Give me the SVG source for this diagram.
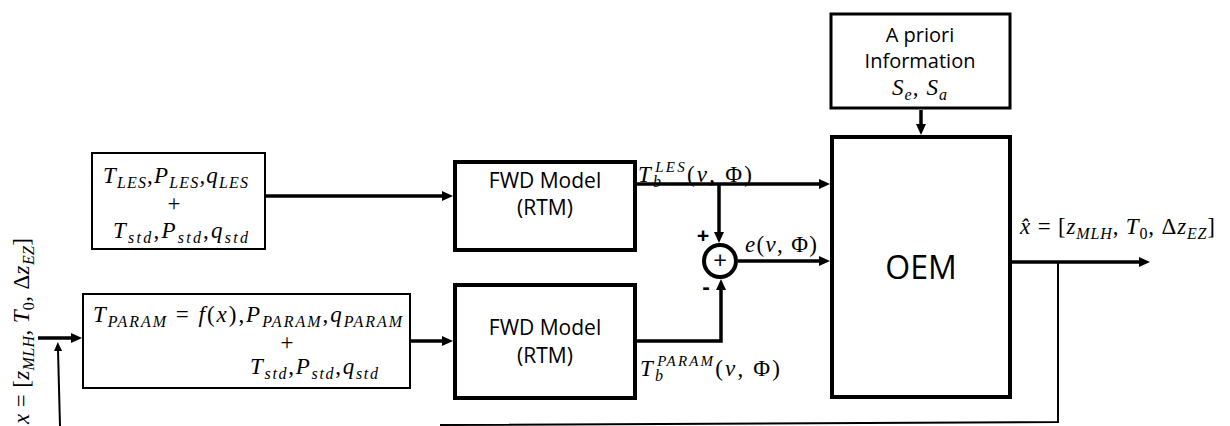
<svg xmlns="http://www.w3.org/2000/svg" width="1230" height="426" viewBox="0 0 1230 426">
<style>
.bg{fill:#fff}
.box{fill:#fff;stroke:#000}
.thin{stroke-width:2}
.thick{stroke-width:4}
.med{stroke-width:3}
.sans{font-family:"Open Sans","Liberation Sans",sans-serif;fill:#000}
.m{font-family:"Liberation Serif","DejaVu Serif",serif;font-size:23px;fill:#000}
.i{font-style:italic}
.sb{font-size:16px;baseline-shift:-5px}
.sp{font-size:15px;baseline-shift:10px}
.c{fill:none;stroke:#000;stroke-width:3.5}
.cf{fill:none;stroke:#000;stroke-width:2}
</style>
<defs>
<marker id="ah" markerUnits="userSpaceOnUse" markerWidth="11" markerHeight="10" refX="1" refY="5" orient="auto" viewBox="0 0 11 10">
<path d="M0,0 L11,5 L0,10 z" fill="#000"/>
</marker>
<marker id="ahs" markerUnits="userSpaceOnUse" markerWidth="9" markerHeight="8" refX="1" refY="4" orient="auto" viewBox="0 0 9 8">
<path d="M0,0 L9,4 L0,8 z" fill="#000"/>
</marker>
</defs>
<rect class="bg" x="0" y="0" width="1230" height="426"/>

<g id="connectors">
<line class="c" x1="266" y1="196" x2="443" y2="196" marker-end="url(#ah)"/>
<line class="c" x1="637" y1="184" x2="820" y2="184" marker-end="url(#ah)"/>
<line class="c" x1="719" y1="184" x2="719" y2="233" marker-end="url(#ah)"/>
<line class="c" x1="738" y1="261" x2="820" y2="261" marker-end="url(#ah)"/>
<polyline class="c" points="637,341 721,341 721,289" marker-end="url(#ah)"/>
<line class="c" x1="411" y1="341" x2="443" y2="341" marker-end="url(#ah)"/>
<line class="c" x1="921" y1="110" x2="921" y2="125" marker-end="url(#ah)"/>
<line class="c" x1="1012" y1="262" x2="1140" y2="262" marker-end="url(#ah)"/>
<polyline class="cf" points="1058,262 1058,422 440,425"/>
<line class="c" x1="38" y1="338" x2="72" y2="338" marker-end="url(#ah)"/>
<line class="cf" x1="60" y1="426" x2="58" y2="350" marker-end="url(#ahs)"/>
</g>

<g id="les">
<rect class="box thin" x="92" y="153" width="173" height="96"/>
<text class="m" x="103" y="183" textLength="145" lengthAdjust="spacing"><tspan class="i">T</tspan><tspan class="i sb">LES</tspan>,<tspan class="i">P</tspan><tspan class="i sb">LES</tspan>,<tspan class="i">q</tspan><tspan class="i sb">LES</tspan></text>
<text class="m" x="174" y="211" text-anchor="middle">+</text>
<text class="m" x="113" y="238" textLength="135" lengthAdjust="spacing"><tspan class="i">T</tspan><tspan class="i sb">std</tspan>,<tspan class="i">P</tspan><tspan class="i sb">std</tspan>,<tspan class="i">q</tspan><tspan class="i sb">std</tspan></text>
</g>

<g id="param">
<rect class="box thin" x="83" y="294" width="327" height="94"/>
<text class="m" x="93" y="322" textLength="309" lengthAdjust="spacing"><tspan class="i">T</tspan><tspan class="i sb">PARAM</tspan> = <tspan class="i">f</tspan>(<tspan class="i">x</tspan>),<tspan class="i">P</tspan><tspan class="i sb">PARAM</tspan>,<tspan class="i">q</tspan><tspan class="i sb">PARAM</tspan></text>
<text class="m" x="287" y="350" text-anchor="middle">+</text>
<text class="m" x="250" y="374" textLength="128" lengthAdjust="spacing"><tspan class="i">T</tspan><tspan class="i sb">std</tspan>,<tspan class="i">P</tspan><tspan class="i sb">std</tspan>,<tspan class="i">q</tspan><tspan class="i sb">std</tspan></text>
</g>

<g id="fwd1">
<rect class="box thick" x="455" y="162" width="180" height="88"/>
<text class="sans" x="545" y="188" font-size="21" text-anchor="middle">FWD Model</text>
<text class="sans" x="545" y="215" font-size="21" text-anchor="middle">(RTM)</text>
</g>

<g id="fwd2">
<rect class="box thick" x="455" y="285" width="180" height="113"/>
<text class="sans" x="545" y="335" font-size="21" text-anchor="middle">FWD Model</text>
<text class="sans" x="545" y="363" font-size="21" text-anchor="middle">(RTM)</text>
</g>

<g id="sum">
<circle cx="720" cy="261" r="16" fill="#fff" stroke="#000" stroke-width="4"/>
<text class="sans" x="720" y="269" font-size="24" text-anchor="middle">+</text>
<text class="sans" x="703" y="243" font-size="22" font-weight="bold" text-anchor="middle">+</text>
<text class="sans" x="706" y="294" font-size="22" font-weight="bold" text-anchor="middle">-</text>
</g>

<g id="labels">
<text class="m" x="638" y="182" textLength="114" lengthAdjust="spacing"><tspan class="i">T</tspan><tspan class="i sb">b</tspan><tspan class="i sp" dx="-8">LES</tspan>(<tspan class="i">ν</tspan>, Φ)</text>
<text class="m" x="745" y="252" textLength="72" lengthAdjust="spacing"><tspan class="i">e</tspan>(<tspan class="i">ν</tspan>, Φ)</text>
<text class="m" x="640" y="376" textLength="140" lengthAdjust="spacing"><tspan class="i">T</tspan><tspan class="i sb">b</tspan><tspan class="i sp" dx="-8">PARAM</tspan>(<tspan class="i">ν</tspan>, Φ)</text>
<text class="m" x="1020" y="234" textLength="195" lengthAdjust="spacing"><tspan class="i">x̂</tspan> = [<tspan class="i">z</tspan><tspan class="i sb">MLH</tspan>, <tspan class="i">T</tspan><tspan class="sb">0</tspan>, Δ<tspan class="i">z</tspan><tspan class="i sb">EZ</tspan>]</text>
<text class="m" transform="translate(29,424) rotate(-90)" x="0" y="0" textLength="186" lengthAdjust="spacing"><tspan class="i">x</tspan> = [<tspan class="i">z</tspan><tspan class="i sb">MLH</tspan>, <tspan class="i">T</tspan><tspan class="sb">0</tspan>, Δ<tspan class="i">z</tspan><tspan class="i sb">EZ</tspan>]</text>
</g>

<g id="apriori">
<rect class="box med" x="831" y="14" width="179" height="94"/>
<text class="sans" x="920" y="42" font-size="20" text-anchor="middle">A priori</text>
<text class="sans" x="920" y="68" font-size="20" text-anchor="middle">Information</text>
<text class="m" x="892" y="95" textLength="55" lengthAdjust="spacing"><tspan class="i">S</tspan><tspan class="i sb">e</tspan>, <tspan class="i">S</tspan><tspan class="i sb">a</tspan></text>
</g>

<g id="oem">
<rect class="box thick" x="832" y="137" width="178" height="260"/>
<text class="sans" x="921" y="279" font-size="32" text-anchor="middle">OEM</text>
</g>
</svg>
